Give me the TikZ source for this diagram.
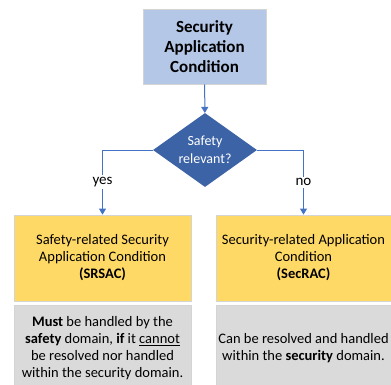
\documentclass[tikz,border=0pt]{standalone}
\usepackage{fontspec}
\setmainfont{Carlito}
\usetikzlibrary{shapes.geometric}
\usetikzlibrary{arrows.meta}

\definecolor{sacblue}{HTML}{B4C7E7}
\definecolor{decblue}{HTML}{3C63A6}
\definecolor{linkblue}{HTML}{4472C4}
\definecolor{racyellow}{HTML}{FFD966}
\definecolor{notegray}{HTML}{DADADA}
\definecolor{edgegray}{HTML}{D4D4D4}

\tikzset{
	box/.style = {draw = edgegray,
				  line width = 0.8pt,
				  shape = rectangle,
				  inner sep = 0pt,
				  align = center,
				  font = \fontsize{14.5}{17}\selectfont},
	link/.style = {draw = linkblue,
				   line width = 1pt,
				   -{Triangle[length=6pt, width=7pt]}}
}

\begin{document}
\begin{tikzpicture}[x = 1pt, y = -1pt]
	\useasboundingbox (0,0) rectangle (391,384);

	% top condition and the decision below it
	\draw (204.5, 46.5) node[box,
						   fill = sacblue,
						   minimum width = 123pt,
						   minimum height = 75pt,
						   font = \fontsize{17}{20}\selectfont\bfseries](SAC)
						   {Security\\Application\\Condition};
	\draw (205, 150) node[shape = diamond,
						 fill = decblue,
						 aspect = 1.4,
						 inner sep = -4pt,
						 minimum width = 104pt,
						 minimum height = 74pt,
						 align = center,
						 text = white,
						 font = \fontsize{14}{18}\selectfont](decision)
						 {Safety\\relevant?};

	% the two kinds of condition
	\draw (102.5, 258) node[box,
						   fill = racyellow,
						   minimum width = 177pt,
						   minimum height = 86pt](SRSAC)
						   {Safety-related Security\\Application Condition\\\textbf{(SRSAC)}};
	\draw (303.5, 258) node[box,
						   fill = racyellow,
						   minimum width = 175pt,
						   minimum height = 86pt](SecRAC)
						   {Security-related Application\\Condition\\\textbf{(SecRAC)}};

	% notes under them
	\draw (102.5, 348) node[box,
						   fill = notegray,
						   minimum width = 177pt,
						   minimum height = 86pt](safetynote)
						   {\textbf{Must} be handled by the\\\textbf{safety} domain, \textbf{if} it \underline{cannot}\\be resolved nor handled\\within the security domain.};
	\draw (303.5, 348) node[box,
						   fill = notegray,
						   minimum width = 175pt,
						   minimum height = 86pt](securitynote)
						   {Can be resolved and handled\\within the \textbf{security} domain.};

	\draw[link] (SAC) -- (decision);
	\draw[link] (decision.west) -| node[pos = 0.75,
									   fill = white,
									   inner sep = 2pt,
									   font = \fontsize{15}{17}\selectfont] {yes} (SRSAC.north);
	\draw[link] (decision.east) -| node[pos = 0.75,
									   fill = white,
									   inner sep = 2pt,
									   font = \fontsize{15}{17}\selectfont] {no} (SecRAC.north);

\end{tikzpicture}
\end{document}
